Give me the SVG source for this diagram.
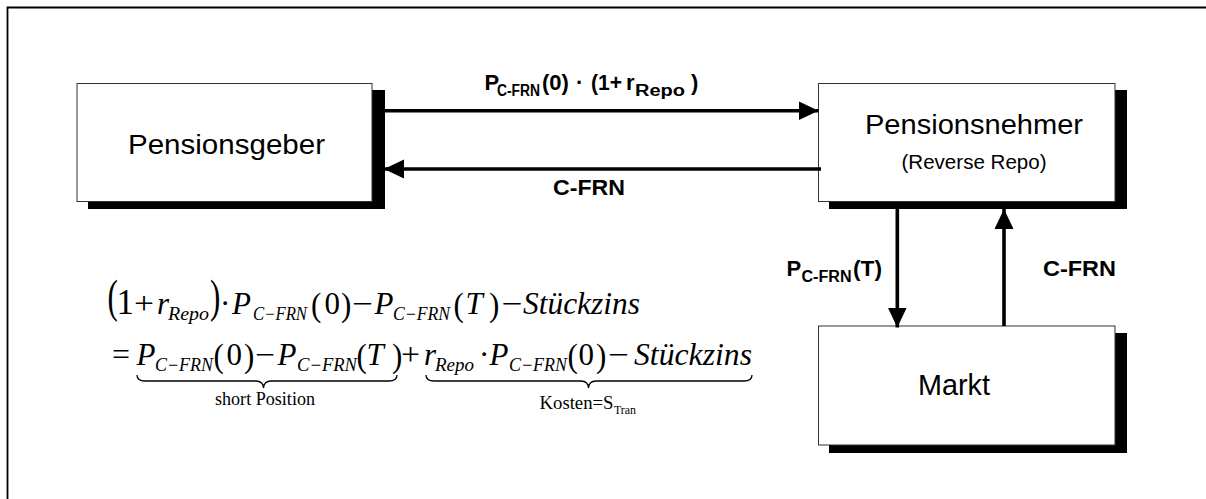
<svg xmlns="http://www.w3.org/2000/svg" width="1206" height="499" viewBox="0 0 1206 499">
<defs>
<marker id="ah" markerUnits="userSpaceOnUse" markerWidth="20" markerHeight="20" viewBox="0 0 20 20" refX="20" refY="10" orient="auto">
<path d="M0,0.5 L20,10 L0,19.5 Z" fill="#000"/>
</marker>
</defs>
<style>
.shadow{fill:#000}
.box{fill:#fff;stroke:#333;stroke-width:1}
.node{font-family:"Liberation Sans",Arial,sans-serif;fill:#000}
.lbl{font-family:"Liberation Sans",Arial,sans-serif;font-weight:bold;fill:#000}
.conn{stroke:#000;stroke-width:3.6;fill:none}
.m{font-family:"Liberation Serif","Times New Roman",serif;fill:#000;font-size:31px}
.i{font-style:italic}
.s{font-size:18px}
.cap{font-size:18px}
.brace{fill:none;stroke:#000;stroke-width:1.3}
</style>
<rect x="-10" y="-10" width="1230" height="520" fill="#fff"/>
<path d="M7.5,520 V7.5 H1230" fill="none" stroke="#000" stroke-width="1.8"/>

<g id="pensionsgeber">
<rect class="shadow" x="88" y="90" width="297" height="119"/>
<rect class="box" x="77" y="83.5" width="295" height="118"/>
<text class="node" x="226.5" y="153.5" font-size="28" text-anchor="middle" textLength="197" lengthAdjust="spacingAndGlyphs">Pensionsgeber</text>
</g>

<g id="pensionsnehmer">
<rect class="shadow" x="829" y="90" width="298" height="119"/>
<rect class="box" x="818.5" y="83.5" width="296.5" height="118"/>
<text class="node" x="974" y="133.5" font-size="28.5" text-anchor="middle" textLength="218" lengthAdjust="spacingAndGlyphs">Pensionsnehmer</text>
<text class="node" x="974" y="168.5" font-size="20" text-anchor="middle" textLength="145" lengthAdjust="spacingAndGlyphs">(Reverse Repo)</text>
</g>

<g id="markt">
<rect class="shadow" x="829" y="333" width="298" height="120"/>
<rect class="box" x="818.5" y="326" width="296.5" height="119"/>
<text class="node" x="954" y="394.5" font-size="29" text-anchor="middle" textLength="72" lengthAdjust="spacingAndGlyphs">Markt</text>
</g>

<g id="connectors">
<line class="conn" x1="385" y1="110.7" x2="818.5" y2="110.7" marker-end="url(#ah)"/>
<line class="conn" x1="821" y1="169" x2="384" y2="169" marker-end="url(#ah)"/>
<line class="conn" x1="897.3" y1="209" x2="897.3" y2="327.5" marker-end="url(#ah)"/>
<line class="conn" x1="1004" y1="326" x2="1004" y2="209" marker-end="url(#ah)"/>
</g>

<g id="labels">
<text class="lbl" font-size="22" x="484.5" y="90">P</text>
<text class="lbl" font-size="16" x="497" y="95.5" textLength="43" lengthAdjust="spacingAndGlyphs">C-FRN</text>
<text class="lbl" font-size="22" x="542" y="90">(0)</text>
<text class="lbl" font-size="22" x="576" y="90">·</text>
<text class="lbl" font-size="22" x="591" y="90" textLength="31" lengthAdjust="spacingAndGlyphs">(1+</text>
<text class="lbl" font-size="22" x="626" y="90">r</text>
<text class="lbl" font-size="16" x="635" y="95.5" textLength="50" lengthAdjust="spacingAndGlyphs">Repo</text>
<text class="lbl" font-size="22" x="691" y="90">)</text>

<text class="lbl" font-size="22" x="553" y="195" textLength="72" lengthAdjust="spacingAndGlyphs">C-FRN</text>

<text class="lbl" font-size="22" x="786.5" y="276">P</text>
<text class="lbl" font-size="16" x="801.5" y="282" textLength="50" lengthAdjust="spacingAndGlyphs">C-FRN</text>
<text class="lbl" font-size="22" x="853" y="276" textLength="29" lengthAdjust="spacingAndGlyphs">(T)</text>

<text class="lbl" font-size="22" x="1043" y="276" textLength="73" lengthAdjust="spacingAndGlyphs">C-FRN</text>
</g>

<g id="formula">
<!-- line 1 -->
<text class="m" transform="translate(107.5,312) scale(1,1.53)">(</text>
<text class="m" style="font-size:35px" x="116.5" y="313.5">1</text>
<text class="m" x="134" y="313.5" textLength="20" lengthAdjust="spacingAndGlyphs">+</text>
<text class="m i" x="157" y="313.5">r</text>
<text class="m i s" x="168" y="320" textLength="41" lengthAdjust="spacingAndGlyphs">Repo</text>
<text class="m" transform="translate(210,312) scale(1,1.53)">)</text>
<text class="m" x="220" y="313.5">·</text>
<text class="m i" x="232" y="313.5">P</text>
<text class="m i s" x="253" y="320" textLength="54" lengthAdjust="spacingAndGlyphs">C−FRN</text>
<text class="m" transform="translate(311,315.5) scale(1,1.12)">(</text>
<text class="m" x="324.5" y="313.5">0</text>
<text class="m" transform="translate(341,315.5) scale(1,1.12)">)</text>
<text class="m" x="352" y="313.5" textLength="21" lengthAdjust="spacingAndGlyphs">−</text>
<text class="m i" x="374.5" y="313.5">P</text>
<text class="m i s" x="393" y="320" textLength="57" lengthAdjust="spacingAndGlyphs">C−FRN</text>
<text class="m" transform="translate(453.5,315.5) scale(1,1.12)">(</text>
<text class="m i" x="465.5" y="313.5">T</text>
<text class="m" transform="translate(489,315.5) scale(1,1.12)">)</text>
<text class="m" x="501.5" y="313.5" textLength="21" lengthAdjust="spacingAndGlyphs">−</text>
<text class="m i" x="523" y="313.5" textLength="117" lengthAdjust="spacingAndGlyphs">Stückzins</text>

<!-- line 2 -->
<text class="m" x="112" y="364.5" textLength="18" lengthAdjust="spacingAndGlyphs">=</text>
<text class="m i" x="136.5" y="364.5">P</text>
<text class="m i s" x="155" y="371" textLength="58" lengthAdjust="spacingAndGlyphs">C−FRN</text>
<text class="m" transform="translate(213.5,366.5) scale(1,1.12)">(</text>
<text class="m" x="226.5" y="364.5">0</text>
<text class="m" transform="translate(244,366.5) scale(1,1.12)">)</text>
<text class="m" x="255" y="364.5" textLength="20" lengthAdjust="spacingAndGlyphs">−</text>
<text class="m i" x="277.5" y="364.5">P</text>
<text class="m i s" x="297" y="371" textLength="60" lengthAdjust="spacingAndGlyphs">C−FRN</text>
<text class="m" transform="translate(356.5,366.5) scale(1,1.12)">(</text>
<text class="m i" x="366.5" y="364.5">T</text>
<text class="m" transform="translate(392,366.5) scale(1,1.12)">)</text>
<text class="m" x="401" y="364.5" textLength="19" lengthAdjust="spacingAndGlyphs">+</text>
<text class="m i" x="424" y="364.5">r</text>
<text class="m i s" x="435" y="371" textLength="39" lengthAdjust="spacingAndGlyphs">Repo</text>
<text class="m" x="479" y="364.5">·</text>
<text class="m i" x="489.5" y="364.5">P</text>
<text class="m i s" x="509" y="371" textLength="58" lengthAdjust="spacingAndGlyphs">C−FRN</text>
<text class="m" transform="translate(567.5,366.5) scale(1,1.12)">(</text>
<text class="m" x="578.5" y="364.5">0</text>
<text class="m" transform="translate(596,366.5) scale(1,1.12)">)</text>
<text class="m" x="608" y="364.5" textLength="21" lengthAdjust="spacingAndGlyphs">−</text>
<text class="m i" x="634" y="364.5" textLength="118" lengthAdjust="spacingAndGlyphs">Stückzins</text>

<!-- underbraces -->
<path class="brace" d="M137,375 Q137,381 145,381 H256 Q263,381 263.5,388 Q264,381 271,381 H389 Q397,381 397,375"/>
<path class="brace" d="M426,375 Q426,381 434,381 H581 Q588,381 588.5,388 Q589,381 596,381 H744 Q752,381 752,375"/>
<text class="m cap" x="265" y="405" text-anchor="middle" textLength="100" lengthAdjust="spacingAndGlyphs">short Position</text>
<text class="m cap" x="539.5" y="409" textLength="74" lengthAdjust="spacingAndGlyphs">Kosten=S</text>
<text class="m" style="font-size:12px" x="614" y="413.5" textLength="22" lengthAdjust="spacingAndGlyphs">Tran</text>
</g>
</svg>
